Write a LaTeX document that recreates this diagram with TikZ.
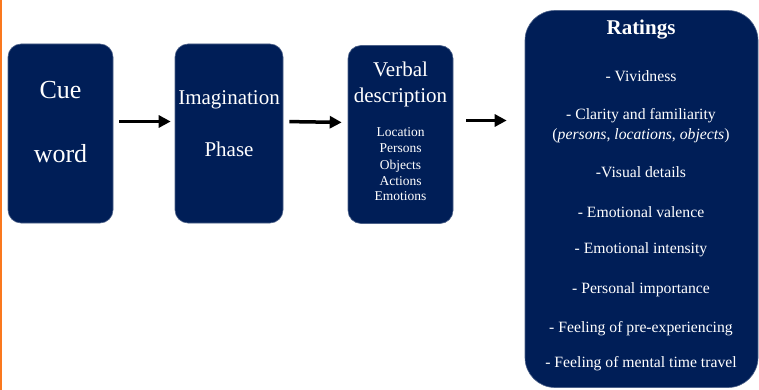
\documentclass[tikz,border=0pt]{standalone}
\usepackage{fontspec}
\setmainfont{Liberation Serif}
\usetikzlibrary{arrows.meta,positioning}
\definecolor{navy}{RGB}{0,30,87}
\definecolor{edgeorange}{RGB}{250,120,30}

\begin{document}
\begin{tikzpicture}[x=1pt,y=-1pt,
  stage node/.style={rectangle,rounded corners=13pt,fill=navy,draw=navy!70!white,line width=0.6pt,inner sep=0pt},
  flow/.style={-{Triangle[length=12pt,width=12pt]},line width=3.5pt,black},
  big text/.style={text=white,anchor=base,inner sep=0pt,font=\fontsize{26}{31}\selectfont},
  mid text/.style={text=white,anchor=base,inner sep=0pt,font=\fontsize{21}{25}\selectfont},
  small text/.style={text=white,anchor=base,inner sep=0pt,font=\fontsize{13.5}{16}\selectfont},
  rating text/.style={text=white,anchor=base,inner sep=0pt,font=\fontsize{15.7}{18}\selectfont}]

  \useasboundingbox (0,0) rectangle (759,390);
  \draw[edgeorange,line width=1.5pt] (0.75,0) -- (0.75,390);

  % the four stages
  \node[stage node,minimum width=105pt,minimum height=179pt] (cue) at (60.5,133.5) {};
  \node[stage node,minimum width=108pt,minimum height=179pt] (imag) at (229,133.5) {};
  \node[stage node,minimum width=105pt,minimum height=178pt] (verbal) at (400.5,134.5) {};
  \node[stage node,rounded corners=30pt,minimum width=233pt,minimum height=377pt] (ratings) at (641.5,199) {};

  % texts
  \node[big text] (cue 1) at (60.5,99) {Cue};
  \node[big text] (cue 2) at (60.5,163) {word};
  \node[mid text] (imag 1) at (229,105) {Imagination};
  \node[mid text] (imag 2) at (229,157) {Phase};
  \node[mid text] (verbal 1) at (400.5,77) {Verbal};
  \node[mid text] (verbal 2) at (400.5,103) {description};
  \foreach \y/\t [count=\i] in {137/Location,153/Persons,169/Objects,185/Actions,200/Emotions}
    \node[small text] (item \i) at (400.5,\y) {\t};

  \node[text=white,anchor=base,inner sep=0pt,font=\fontsize{21}{25}\selectfont\bfseries] (head) at (641,35) {Ratings};
  \foreach \y/\t [count=\i] in {82/{- Vividness},
      120/{- Clarity and familiarity},
      140/{(\textit{persons}, \textit{locations}, \textit{objects})},
      177/{-Visual details},
      217/{- Emotional valence},
      253/{- Emotional intensity},
      293/{- Personal importance},
      332/{- Feeling of pre-experiencing},
      367/{- Feeling of mental time travel}}
    \node[rating text] (rating \i) at (641,\y) {\t};

  % arrows between stages
  \draw[flow,shorten <=6pt,shorten >=4pt] ([yshift=12pt]cue.east) -- ([yshift=12pt]imag.west);
  \draw[flow,shorten <=6pt,shorten >=6pt] ([yshift=12pt]imag.east) -- ([yshift=12pt]verbal.west);
  \draw[flow,shorten <=13pt,shorten >=18pt] ([yshift=14pt]verbal.east) -- ([yshift=14pt]verbal.east -| ratings.west);
\end{tikzpicture}
\end{document}
